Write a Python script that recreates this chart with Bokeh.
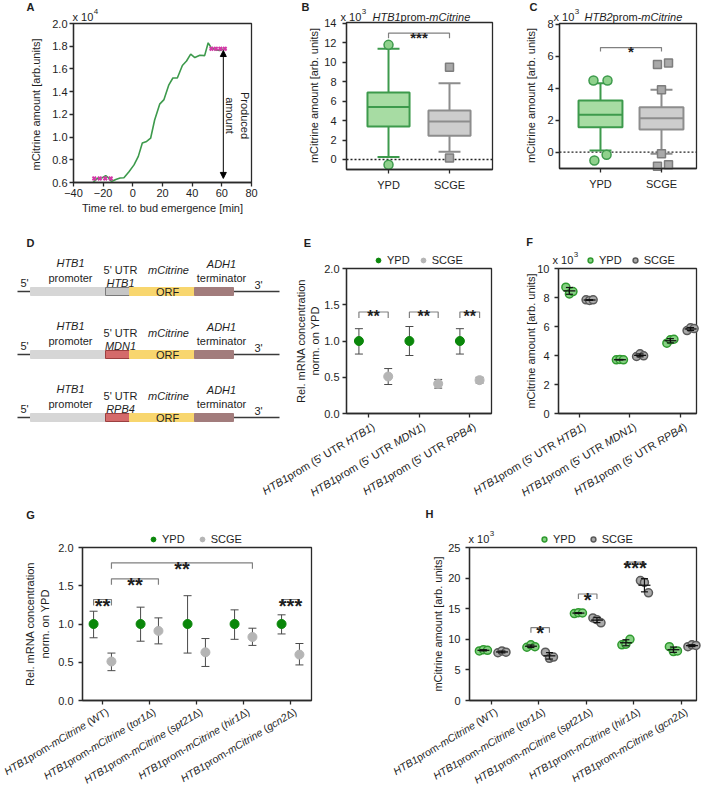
import math
import numpy as np
from bokeh.plotting import figure
from bokeh.models import (Range1d, FixedTicker, PrintfTickFormatter, Label, Legend,
                          LegendItem, Arrow, NormalHead, LinearAxis)
from bokeh.embed import file_html
from bokeh.resources import INLINE
from bokeh.core.properties import value

FONT = "Liberation Sans"
TXT = "#1e1e1e"
AXC = "#2a2a2a"
BRK = "#808080"

# ======================= DATA =======================
# Panel A  (mCitrine amount, x10^4)
a_time = [-26.8, -23.9, -20.5, -18.3, -16.0, -14.4, -11.5, -8.6, -6.0, -2.6, 0.8, 3.7,
          6.4, 9.3, 12.0, 14.7, 18.1, 21.0, 24.3, 27.0, 30.0, 33.4, 36.2, 39.0, 41.8,
          45.2, 48.4, 50.8, 52.9, 55.8, 58.7, 61.0]
a_amount = [0.600, 0.636, 0.642, 0.660, 0.636, 0.609, 0.627, 0.639, 0.642, 0.695, 0.755,
            0.830, 0.947, 0.962, 0.990, 1.150, 1.290, 1.330, 1.460, 1.520, 1.520, 1.630,
            1.670, 1.730, 1.700, 1.720, 1.717, 1.830, 1.785, 1.768, 1.762, 1.775]
a_start_time = [-26.0, -22.3, -18.6, -14.9]
a_start_amount = [0.636, 0.636, 0.636, 0.636]
a_end_time = [53.0, 56.0, 59.0, 62.0]
a_end_amount = [1.778, 1.778, 1.778, 1.778]
a_arrow_time = 61.0
a_x_ticks = [-40, -20, 0, 20, 40, 60, 80]
a_y_ticks = [0.6, 0.8, 1.0, 1.2, 1.4, 1.6, 1.8, 2.0]

# Panels B, C (box plots, x10^3)
box_groups = ["YPD", "SCGE"]
b_q1 = [3.4, 2.45]
b_median = [5.4, 3.9]
b_q3 = [6.9, 5.05]
b_wlo = [0.25, 0.8]
b_whi = [11.4, 7.85]
b_out_ypd = [11.8, -0.55]
b_out_scge = [9.5, 0.15]
b_y_ticks = [0, 2, 4, 6, 8, 10, 12, 14]
b_sig = "***"

c_q1 = [1.57, 1.42]
c_median = [2.34, 2.13]
c_q3 = [3.24, 2.82]
c_wlo = [0.1, -0.1]
c_whi = [4.32, 3.91]
c_out_ypd = [4.49, 4.49, -0.52, -0.16]
c_out_scge = [3.91, -0.1, 5.5, 5.58, -0.88, -0.79]
c_y_ticks = [0, 2, 4, 6, 8]
c_sig = "*"

# Panel D constructs
d_utr_names = ["HTB1", "MDN1", "RPB4"]
d_utr_fill = ["#c6c6c6", "#d46a6a", "#d46a6a"]
d_utr_line = ["#7a7a7a", "#9c4040", "#9c4040"]

# Panel E (rel. mRNA)
e_cats = [
    [("HTB1", "italic"), ("prom (5' UTR ", "normal"), ("HTB1", "italic"), (")", "normal")],
    [("HTB1", "italic"), ("prom (5' UTR ", "normal"), ("MDN1", "italic"), (")", "normal")],
    [("HTB1", "italic"), ("prom (5' UTR ", "normal"), ("RPB4", "italic"), (")", "normal")],
]
e_ypd = [1.0, 1.0, 1.0]
e_ypd_lo = [0.82, 0.80, 0.82]
e_ypd_hi = [1.17, 1.20, 1.17]
e_scge = [0.51, 0.41, 0.46]
e_scge_lo = [0.40, 0.35, 0.42]
e_scge_hi = [0.62, 0.47, 0.50]
e_sig = ["**", "**", "**"]
e_y_ticks = [0.0, 0.5, 1.0, 1.5, 2.0]

# Panel F (mCitrine amount x10^3, replicates)
f_ypd = [[8.71, 8.25, 8.41], [3.70, 3.73, 3.70], [4.85, 5.08, 5.12]]
f_scge = [[7.84, 7.80, 7.84], [3.93, 4.12, 3.98], [5.72, 5.91, 5.86]]
f_y_ticks = [0, 2, 4, 6, 8, 10]

# Panel G (rel. mRNA, mutants)
g_cats = [
    [("HTB1", "italic"), ("prom-", "normal"), ("mCitrine", "italic"), (" (WT)", "normal")],
    [("HTB1", "italic"), ("prom-", "normal"), ("mCitrine", "italic"), (" (", "normal"), ("tor1", "italic"), ("Δ)", "normal")],
    [("HTB1", "italic"), ("prom-", "normal"), ("mCitrine", "italic"), (" (", "normal"), ("spt21", "italic"), ("Δ)", "normal")],
    [("HTB1", "italic"), ("prom-", "normal"), ("mCitrine", "italic"), (" (", "normal"), ("hir1", "italic"), ("Δ)", "normal")],
    [("HTB1", "italic"), ("prom-", "normal"), ("mCitrine", "italic"), (" (", "normal"), ("gcn2", "italic"), ("Δ)", "normal")],
]
g_ypd = [1.0, 1.0, 1.0, 1.0, 1.0]
g_ypd_lo = [0.82, 0.775, 0.62, 0.80, 0.87]
g_ypd_hi = [1.167, 1.22, 1.37, 1.185, 1.12]
g_scge = [0.51, 0.91, 0.63, 0.83, 0.60]
g_scge_lo = [0.39, 0.74, 0.445, 0.72, 0.465]
g_scge_hi = [0.62, 1.08, 0.81, 0.945, 0.745]
# (cat1, series1, cat2, series2, level, label)
g_sig = [(0, "Y", 0, "S", 1.32, "**"), (0, "S", 1, "S", 1.59, "**"),
         (0, "S", 3, "S", 1.80, "**"), (4, "Y", 4, "S", 1.32, "***")]
g_y_ticks = [0.0, 0.5, 1.0, 1.5, 2.0]

# Panel H (mCitrine amount x10^3, mutants, replicates)
h_ypd = [[8.1, 8.3, 8.2], [8.7, 9.1, 8.8], [14.2, 14.35, 14.3], [9.1, 9.2, 10.0], [8.8, 8.0, 8.1]]
h_scge = [[7.8, 8.1, 7.9], [7.9, 6.9, 7.1], [13.5, 13.2, 12.7], [19.6, 19.3, 17.6], [8.8, 9.1, 9.0]]
h_sig = [(1, "Y", 1, "S", 11.9, "*"), (2, "Y", 2, "S", 17.4, "*"), (3, "Y", 3, "S", 22.6, "***")]
h_y_ticks = [0, 5, 10, 15, 20, 25]

# ======================= CANVAS =======================
# one svg canvas; its default ranges are page pixels (x right, y down)
PX0, PY0, PX1, PY1 = 0, 0, 703, 786
p = figure(width=PX1 - PX0, height=PY1 - PY0, x_range=Range1d(PX0, PX1),
           y_range=Range1d(PY1, PY0), x_axis_location=None, y_axis_location=None,
           min_border=0, output_backend="svg", toolbar_location=None)
p.outline_line_color = None
p.background_fill_color = "white"
p.border_fill_color = "white"
p.grid.visible = False

AW = {' ': .278, "'": .191, '(': .333, ')': .333, '-': .333, '1': .556, '2': .556, '4': .556,
      '5': .556, 'B': .667, 'C': .722, 'D': .722, 'H': .722, 'M': .833, 'N': .722, 'P': .667,
      'R': .722, 'T': .611, 'U': .722, 'W': .944, 'c': .5, 'e': .556, 'g': .556, 'h': .556,
      'i': .222, 'm': .833, 'n': .556, 'o': .556, 'p': .556, 'r': .333, 's': .5, 't': .278,
      'x': .5, '0': .556, 'Δ': .668}


def tw(s, size):
    return sum(AW.get(ch, 0.556) for ch in s) * size


class Panel:
    """A plot box at page pixels (fl, ft, fr, fb) showing data xr x yr."""
    def __init__(self, name, box, xr, yr):
        fl, ft, fr, fb = box
        self.name = name
        self.fl, self.ft, self.fr, self.fb = fl, ft, fr, fb
        self.xr, self.yr = xr, yr
        self.ux = (xr[1] - xr[0]) / (fr - fl)
        self.uy = (yr[1] - yr[0]) / (fb - ft)
        p.extra_x_ranges[name] = Range1d(xr[0] - (fl - PX0) * self.ux,
                                         xr[1] + (PX1 - fr) * self.ux)
        p.extra_y_ranges[name] = Range1d(yr[0] - (PY1 - fb) * self.uy,
                                         yr[1] + (ft - PY0) * self.uy)
        self.kw = dict(x_range_name=name, y_range_name=name)

    def box(self):
        p.quad(left=[self.xr[0]], right=[self.xr[1]], bottom=[self.yr[0]], top=[self.yr[1]],
               fill_color=None, line_color=AXC, line_width=1.3, **self.kw)


def style_axis(ax, ls):
    ax.axis_line_color = AXC
    ax.axis_line_width = 1.3
    ax.major_tick_line_color = AXC
    ax.major_tick_line_width = 1.3
    ax.major_tick_out = 4
    ax.major_tick_in = 0
    ax.minor_tick_line_color = None
    ax.major_label_text_font = FONT
    ax.major_label_text_font_size = "11px"
    ax.major_label_text_color = TXT
    ax.major_label_standoff = ls


def axes(P, xticks, yticks, yfmt=None, xover=None, ls_x=2, ls_y=2):
    yax = LinearAxis(fixed_location=P.xr[0], bounds=P.yr,
                     ticker=FixedTicker(ticks=yticks), **P.kw)
    xax = LinearAxis(fixed_location=P.yr[0], bounds=P.xr,
                     ticker=FixedTicker(ticks=xticks), **P.kw)
    style_axis(yax, ls_y)
    style_axis(xax, ls_x)
    if yfmt:
        yax.formatter = PrintfTickFormatter(format=yfmt)
    if xover is not None:
        xax.major_label_overrides = xover
    p.add_layout(yax, "left")
    p.add_layout(xax, "below")


def lab(px, py, text, size=11, style="normal", align="left", baseline="middle",
        angle=0.0, color=TXT):
    p.add_layout(Label(x=px, y=py, text=text, text_font=FONT, text_font_size=f"{size}px",
                       text_font_style=style, text_align=align, text_baseline=baseline,
                       angle=angle, text_color=color))


def pieces_h(px, py, pieces, size=11):
    x = px
    for text, st in pieces:
        lab(x, py, text, size=size, style=st)
        x += tw(text, size)


def rot_labels(P, ticks, cats, size=11, ang=31, dx=5, dy=12):
    a = math.radians(ang)
    for t, pieces in zip(ticks, cats):
        d = 0.0
        for text, st in reversed(pieces):
            core = text.rstrip(' ')
            d += (len(text) - len(core)) * AW[' '] * size
            core2 = core.lstrip(' ')
            if core2:
                p.add_layout(Label(x=t, y=P.yr[0], x_offset=dx - d * math.cos(a),
                                   y_offset=-dy - d * math.sin(a), text=core2, angle=a,
                                   text_align="right", text_baseline="middle",
                                   text_font=FONT, text_font_size=f"{size}px",
                                   text_font_style=st, text_color=TXT, **P.kw))
            d += tw(core2, size) + (len(core) - len(core2)) * AW[' '] * size


def bracket(P, x1, x2, y, drop_px):
    dr = drop_px * P.uy
    p.multi_line(xs=[[x1, x1, x2, x2]], ys=[[y - dr, y, y, y - dr]],
                 line_color=BRK, line_width=1.2, **P.kw)


def star(P, xc, y, text, size, gap):
    p.add_layout(Label(x=xc, y=y, y_offset=gap - 0.575 * size, text=text,
                       text_align="center", text_baseline="alphabetic", text_font=FONT,
                       text_font_size=f"{size}px", text_font_style="bold", text_color=TXT,
                       **P.kw))


def times_ten(px, py, exp):
    lab(px, py, "x 10", size=11)
    lab(px + tw("x 10", 11) + 0.5, py - 5, exp, size=8)


def ylabel(px, py, text):
    lab(px, py, text, size=11, align="center", angle=math.pi / 2)


# ======================= PANEL A =======================
A = Panel("A", (73, 23, 251, 182), (-40, 80), (0.6, 2.0))
A.box()
axes(A, a_x_ticks, a_y_ticks, yfmt="%.1f", ls_x=2, ls_y=2)
p.line(a_time, a_amount, line_color="#3d9a4c", line_width=1.6, **A.kw)
p.scatter(a_start_time, a_start_amount, marker="x", size=5, line_color="#d23aa6",
          line_width=2, **A.kw)
p.scatter(a_end_time, a_end_amount, marker="x", size=5, line_color="#d23aa6",
          line_width=2, **A.kw)
p.add_layout(Arrow(x_start=a_arrow_time, y_start=a_end_amount[0] - 0.016,
                   x_end=a_arrow_time, y_end=a_start_amount[0],
                   start=NormalHead(size=6, fill_color="black", line_color="black"),
                   end=NormalHead(size=6, fill_color="black", line_color="black"),
                   line_color="black", line_width=1, **A.kw))
lab(237, 115, "Produced\namount", size=11, align="center", angle=-math.pi / 2)
ylabel(35, 104, "mCitrine amount [arb.units]")
lab(162, 207, "Time rel. to bud emergence [min]", align="center")
times_ten(72, 16, "4")
lab(30, 6, "A", style="bold", align="center")


# ======================= PANELS B, C =======================
def boxplot(P, q1, med, q3, wlo, whi, box_w, cap_w):
    xs = [0, 1]
    fills = ["#a7dca3", "#cdcdcd"]
    lines = ["#3d9a4c", "#8d8d8d"]
    kw = P.kw
    p.segment(x0=xs, y0=q3, x1=xs, y1=whi, line_color=lines, line_width=2, **kw)
    p.segment(x0=xs, y0=q1, x1=xs, y1=wlo, line_color=lines, line_width=2, **kw)
    p.segment(x0=[x - cap_w / 2 for x in xs], y0=whi, x1=[x + cap_w / 2 for x in xs],
              y1=whi, line_color=lines, line_width=2, **kw)
    p.segment(x0=[x - cap_w / 2 for x in xs], y0=wlo, x1=[x + cap_w / 2 for x in xs],
              y1=wlo, line_color=lines, line_width=2, **kw)
    p.vbar(x=xs, bottom=q1, top=q3, width=box_w, fill_color=fills, line_color=lines,
           line_width=2, **kw)
    p.segment(x0=[x - box_w / 2 for x in xs], y0=med, x1=[x + box_w / 2 for x in xs],
              y1=med, line_color=lines, line_width=2, **kw)


def zero_line(P):
    p.line([P.xr[0], P.xr[1]], [0, 0], line_color="#222222", line_width=1.3,
           line_dash="2 2", **P.kw)


B = Panel("B", (346, 22, 492, 169), (-0.689, 1.705), (-1.03, 14.10))
B.box()
axes(B, [0, 1], b_y_ticks, xover={0: box_groups[0], 1: box_groups[1]}, ls_x=5, ls_y=6)
zero_line(B)
boxplot(B, b_q1, b_median, b_q3, b_wlo, b_whi, 0.69, 0.36)
p.scatter([0] * len(b_out_ypd), b_out_ypd, marker="circle", size=9, fill_color="#8fd18c",
          line_color="#3d9a4c", line_width=1.5, **B.kw)
p.scatter([1] * len(b_out_scge), b_out_scge, marker="square", size=8, fill_color="#a9a9a9",
          line_color="#7d7d7d", line_width=1.5, **B.kw)
bracket(B, 0, 1, 13.0, 5)
star(B, 0.5, 13.0, b_sig, 15, 4)
ylabel(313, 95, "mCitrine amount [arb. units]")
times_ten(340, 16, "3")
pieces_h(372, 16, [("HTB1", "italic"), ("prom-", "normal"), ("mCitrine", "italic")])
lab(305, 6, "B", style="bold", align="center")

C = Panel("C", (559, 23, 696, 168), (-0.672, 1.574), (-1.02, 8.06))
C.box()
axes(C, [0, 1], c_y_ticks, xover={0: box_groups[0], 1: box_groups[1]}, ls_x=5, ls_y=2)
zero_line(C)
boxplot(C, c_q1, c_median, c_q3, c_wlo, c_whi, 0.72, 0.36)
C_JIT_Y = [-0.115, 0.115, -0.10, 0.10]
C_JIT_S = [0.0, 0.0, -0.066, 0.115, -0.066, 0.115]
p.scatter([0 + j for j in C_JIT_Y], c_out_ypd, marker="circle", size=9,
          fill_color="#8fd18c", line_color="#3d9a4c", line_width=1.5, **C.kw)
p.scatter([1 + j for j in C_JIT_S], c_out_scge, marker="square", size=8,
          fill_color="#a9a9a9", line_color="#7d7d7d", line_width=1.5, **C.kw)
bracket(C, 0, 1, 6.55, 4)
star(C, 0.5, 6.55, c_sig, 15, 5)
ylabel(530, 95, "mCitrine amount [arb. units]")
times_ten(553, 16, "3")
pieces_h(584, 16, [("HTB2", "italic"), ("prom-", "normal"), ("mCitrine", "italic")])
lab(533, 6, "C", style="bold", align="center")

# ======================= PANEL D (schematic, page pixels) =======================
D_Y0, D_DY = 291, 63
d_bounds = [30, 105, 129, 194, 233]
d_line = [17, 279]
for i, (utr, uf, ul) in enumerate(zip(d_utr_names, d_utr_fill, d_utr_line)):
    yc = D_Y0 + D_DY * i
    p.line(d_line, [yc, yc], line_color="#3a3a3a", line_width=1.5)
    p.quad(left=d_bounds[:-1], right=d_bounds[1:], top=[yc - 4] * 4, bottom=[yc + 4] * 4,
           fill_color=["#d6d6d6", uf, "#f8d66e", "#a27c7c"],
           line_color=["#d6d6d6", ul, "#f8d66e", "#a27c7c"], line_width=1)
    items_n = [("promoter", 70, -14), ("5' UTR", 120, -22), ("ORF", 167, 0),
               ("terminator", 221, -14), ("5'", 24, -9), ("3'", 258, -7)]
    items_i = [("HTB1", 70, -29), (utr, 120, -9), ("mCitrine", 168, -22), ("ADH1", 221, -28)]
    p.text(x=[t[1] for t in items_n], y=[yc + t[2] for t in items_n],
           text=[t[0] for t in items_n], text_font=value(FONT), text_font_size=value("11px"),
           text_align=value("center"), text_baseline=value("middle"), text_color=TXT)
    p.text(x=[t[1] for t in items_i], y=[yc + t[2] for t in items_i],
           text=[t[0] for t in items_i], text_font=value(FONT), text_font_size=value("11px"),
           text_font_style=value("italic"), text_align=value("center"),
           text_baseline=value("middle"), text_color=TXT)
lab(30, 242, "D", style="bold", align="center")


# ======================= PANEL E / G (mean +- error) =======================
def err_panel(P, ymean, ylo, yhi, smean, slo, shi, dodge_y, dodge_s, cap_px=8, size=9):
    n = len(ymean)
    xy_ = [i + dodge_y for i in range(n)]
    xs_ = [i + d for i, d in zip(range(n), dodge_s)]
    cw = cap_px * P.ux / 2
    for xx, lo, hi in ((xy_, ylo, yhi), (xs_, slo, shi)):
        p.segment(x0=xx, y0=lo, x1=xx, y1=hi, line_color="#4a4a4a", line_width=1, **P.kw)
        p.segment(x0=[x - cw for x in xx], y0=lo, x1=[x + cw for x in xx], y1=lo,
                  line_color="#4a4a4a", line_width=1, **P.kw)
        p.segment(x0=[x - cw for x in xx], y0=hi, x1=[x + cw for x in xx], y1=hi,
                  line_color="#4a4a4a", line_width=1, **P.kw)
    r1 = p.scatter(xy_, ymean, marker="circle", size=size, fill_color="#0a870a",
                   line_color="#0a870a", **P.kw)
    r2 = p.scatter(xs_, smean, marker="circle", size=size, fill_color="#b5b5b5",
                   line_color="#b5b5b5", **P.kw)
    return r1, r2, xy_, xs_


def legend(r1, r2, left_px, center_py, spacing):
    leg = Legend(items=[LegendItem(label="YPD", renderers=[r1]),
                        LegendItem(label="SCGE", renderers=[r2])],
                 location=(left_px - PX0, PY1 - (center_py + 6.5)), orientation="horizontal",
                 padding=0, margin=0, spacing=spacing, glyph_width=12, glyph_height=12,
                 label_height=12, label_standoff=3, label_text_font=FONT,
                 label_text_font_size="11px", label_text_color=TXT,
                 border_line_color=None, background_fill_alpha=0)
    p.add_layout(leg)


E = Panel("E", (346, 268, 491, 413), (-0.436, 2.436), (0.0, 2.0))
E.box()
axes(E, [0, 1, 2], e_y_ticks, yfmt="%.1f", xover={0: "", 1: "", 2: ""}, ls_y=3)
E_DODGE_S = [0.39, 0.38, 0.20]
r1, r2, exy, exs = err_panel(E, e_ypd, e_ypd_lo, e_ypd_hi, e_scge, e_scge_lo, e_scge_hi,
                             -0.19, E_DODGE_S)
for i, s in enumerate(e_sig):
    bracket(E, exy[i], exs[i], 1.40, 6)
    star(E, (exy[i] + exs[i]) / 2, 1.40, s, 16, 5)
legend(r1, r2, 372, 259, 7)
rot_labels(E, [0, 1, 2], e_cats)
ylabel(307.5, 340.5, "Rel. mRNA concentration\nnorm. on YPD")
lab(307, 242, "E", style="bold", align="center")

G = Panel("G", (82, 547, 311, 700), (-0.426, 4.447), (0.0, 2.0))
G.box()
axes(G, [0, 1, 2, 3, 4], g_y_ticks, yfmt="%.1f",
     xover={0: "", 1: "", 2: "", 3: "", 4: ""}, ls_y=5)
r1, r2, gxy, gxs = err_panel(G, g_ypd, g_ypd_lo, g_ypd_hi, g_scge, g_scge_lo, g_scge_hi,
                             -0.19, [0.19] * 5)
for c1, s1, c2, s2, lvl, txt in g_sig:
    x1 = gxy[c1] if s1 == "Y" else gxs[c1]
    x2 = gxy[c2] if s2 == "Y" else gxs[c2]
    bracket(G, x1, x2, lvl, 6)
    star(G, (x1 + x2) / 2, lvl, txt, 20, 5)
legend(r1, r2, 147, 538, 11)
rot_labels(G, [0, 1, 2, 3, 4], g_cats, size=10.5, dy=10)
ylabel(37, 623.5, "Rel. mRNA concentration\nnorm. on YPD")
lab(30, 514, "G", style="bold", align="center")


# ======================= PANEL F / H (replicates) =======================
def rep_panel(P, ypd, scge, dodge_y, dodge_s, jitter, mean_px=12, cap_px=7, size=8):
    out = []
    for vals_all, dg, fc, lc in ((ypd, dodge_y, "#86d183", "#2f9a2f"),
                                 (scge, dodge_s, "#aaaaaa", "#5a5a5a")):
        xs, ys, mx, mm, lo, hi = [], [], [], [], [], []
        for i, vals in enumerate(vals_all):
            for j, v in enumerate(vals):
                xs.append(i + dg + jitter[j])
                ys.append(v)
            m = float(np.mean(vals))
            sd = float(np.std(vals, ddof=1))
            mx.append(i + dg)
            mm.append(m)
            lo.append(m - sd)
            hi.append(m + sd)
        r = p.scatter(xs, ys, marker="circle", size=size, fill_color=fc, line_color=lc,
                      line_width=1.5, **P.kw)
        mw = mean_px * P.ux / 2
        cw = cap_px * P.ux / 2
        p.segment(x0=[x - mw for x in mx], y0=mm, x1=[x + mw for x in mx], y1=mm,
                  line_color="#111111", line_width=1.3, **P.kw)
        p.segment(x0=mx, y0=lo, x1=mx, y1=hi, line_color="#111111", line_width=1.2, **P.kw)
        p.segment(x0=[x - cw for x in mx], y0=lo, x1=[x + cw for x in mx], y1=lo,
                  line_color="#111111", line_width=1.2, **P.kw)
        p.segment(x0=[x - cw for x in mx], y0=hi, x1=[x + cw for x in mx], y1=hi,
                  line_color="#111111", line_width=1.2, **P.kw)
        out.append((r, mx))
    return out


F = Panel("F", (558, 268, 696, 413), (-0.416, 2.317), (0, 10))
F.box()
axes(F, [0, 1, 2], f_y_ticks, xover={0: "", 1: "", 2: ""}, ls_y=5)
(fr1, _), (fr2, _) = rep_panel(F, f_ypd, f_scge, -0.2, 0.2, [-0.07, 0.0, 0.07])
legend(fr1, fr2, 584, 259, 7)
times_ten(552, 259, "3")
rot_labels(F, [0, 1, 2], e_cats)
ylabel(530, 340.5, "mCitrine amount [arb. units]")
lab(529, 241, "F", style="bold", align="center")

H = Panel("H", (469, 547, 696, 700), (-0.463, 4.316), (0, 25))
H.box()
axes(H, [0, 1, 2, 3, 4], h_y_ticks, xover={0: "", 1: "", 2: "", 3: "", 4: ""}, ls_y=5)
(hr1, hmy), (hr2, hms) = rep_panel(H, h_ypd, h_scge, -0.17, 0.22, [-0.085, 0.0, 0.085])
for c1, s1, c2, s2, lvl, txt in h_sig:
    x1 = hmy[c1] if s1 == "Y" else hms[c1]
    x2 = hmy[c2] if s2 == "Y" else hms[c2]
    bracket(H, x1, x2, lvl, 5)
    star(H, (x1 + x2) / 2, lvl, txt, 20, 6)
legend(hr1, hr2, 538, 538, 11)
times_ten(468, 538, "3")
rot_labels(H, [0, 1, 2, 3, 4], g_cats, size=10.5, dy=10)
ylabel(437, 623.5, "mCitrine amount [arb. units]")
lab(429, 513, "H", style="bold", align="center")

open("out.html", "w").write(file_html(p, INLINE))
